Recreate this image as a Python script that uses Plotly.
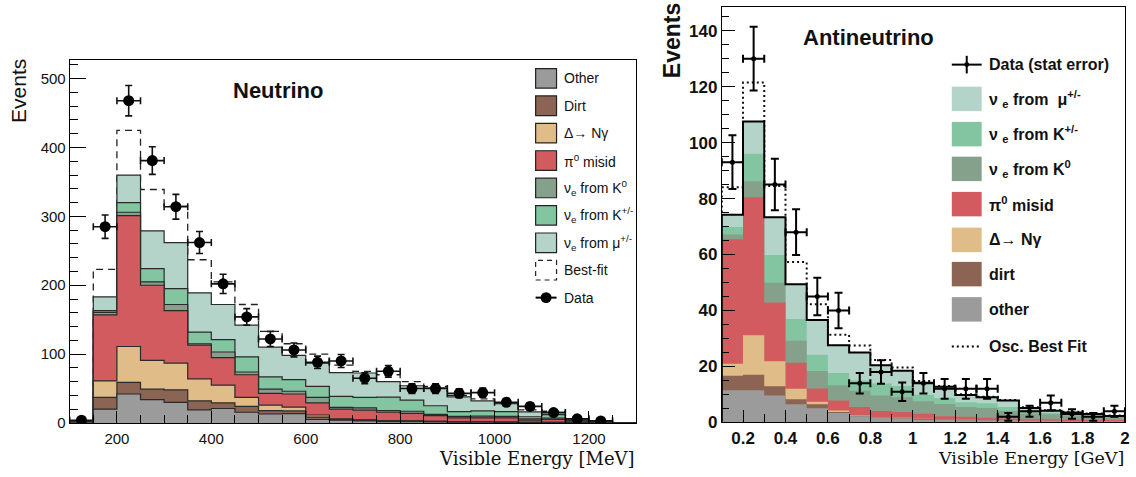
import plotly.graph_objects as go

W, H = 1136, 477

# ---------------- Neutrino (left) ----------------
nu_edges = list(range(100, 1301, 50))          # 24 bins of 50 MeV
nu_other = [1.2, 20, 42, 34, 30, 19, 21, 15.5, 13, 13.5, 5, 4, 3, 2, 2, 1.5, 1, 1, 0.8, 0.6, 0.5, 0.4, 0.2, 0]
nu_dirt  = [0.6, 17, 17, 15, 18, 13, 8, 8.5, 5, 4, 3.5, 1, 1, 1, 0.8, 0.7, 0.6, 0.5, 0.4, 0.3, 0.3, 0.2, 0.1, 0]
nu_delta = [0.3, 24, 52, 42, 39, 32, 26, 13, 8, 5.5, 3, 1, 0.5, 0.3, 0.2, 0.2, 0.2, 0.2, 0.2, 0.1, 0.1, 0.1, 0.1, 0]
nu_pi0   = [0.5, 96, 190, 109, 76, 49, 40, 33, 17, 19, 17.5, 14, 14, 12.2, 11, 8.1, 5.7, 5.8, 6.1, 3, 4.1, 1.8, 0.6, 0]
nu_k0    = [0.1, 3.5, 5, 5, 9, 2, 8, 4, 6, 4, 8, 2.5, 3.5, 2.5, 3, 2, 2, 2.5, 2, 2, 2, 0.5, 0.3, 0]
nu_kpm   = [0.1, 2.5, 14, 19, 23, 17, 18, 22, 18, 17, 16, 16, 15, 19.5, 16, 12.5, 7, 7.5, 7, 3, 5, 1, 0.4, 0]
nu_mu    = [0.2, 20, 40, 55, 67, 57, 51, 46, 43, 35, 34, 34.5, 35.5, 22.5, 21, 26, 21.5, 14.5, 11.5, 7, 3.5, 1.5, 0.8, 0]
nu_best  = [3, 223, 425, 339, 315, 237, 205, 172, 133, 115, 100, 84, 75, 70, 60, 53, 40, 35, 29, 19, 17, 6, 3, 0]
nu_data_x   = [125, 175, 225, 275, 325, 375, 425, 475, 525, 575, 625, 675, 725, 775, 825, 875, 925, 975, 1025, 1075, 1125, 1175, 1225]
nu_data     = [4, 285, 468, 381, 314, 262, 202, 154, 122, 106, 88, 90, 65, 75, 50, 50, 43, 44, 30, 24, 15, 6, 3]
nu_data_err = [2, 17, 22, 20, 18, 16, 14, 12, 11, 10, 9, 9.5, 8, 8.5, 7, 7, 6.5, 6.5, 5.5, 5, 4, 2.5, 1.7]
nu_bin_half = 25

# ---------------- Antineutrino (right) ----------------
an_edges = [round(0.1 + 0.1 * i, 2) for i in range(20)]   # 19 bins of 0.1 GeV
an_other = [11.5, 11.5, 9.6, 6.5, 5.1, 3.4, 2.2, 1.6, 1.5, 1.0, 1.0, 0.8, 0.7, 0.6, 0.5, 0.5, 0.4, 0.4, 0.4]
an_dirt  = [5.2, 5.5, 3.3, 1.8, 1.4, 0.3, 0.2, 0.2, 0.2, 0.2, 0.1, 0.1, 0.1, 0.1, 0.1, 0.1, 0.1, 0.1, 0.0]
an_delta = [4.3, 14.2, 9.0, 3.7, 0.9, 0.6, 0.2, 0.1, 0.1, 0.1, 0.1, 0.1, 0.1, 0.1, 0.0, 0.0, 0.0, 0.0, 0.1]
an_pi0   = [44.5, 49.3, 21.0, 9.3, 4.7, 3.5, 2.9, 2.2, 1.9, 1.8, 1.0, 1.0, 0.8, 0.6, 0.5, 0.5, 0.5, 0.4, 0.4]
an_k0    = [1.7, 5.7, 7.0, 7.9, 6.3, 5.5, 5.8, 5.5, 5.3, 4.5, 4.4, 3.5, 3.5, 2.7, 2.0, 1.8, 1.5, 1.3, 1.1]
an_kpm   = [2.6, 9.8, 9.9, 7.8, 5.8, 4.4, 3.7, 4.3, 4.0, 2.3, 2.1, 1.7, 1.7, 1.4, 0.8, 0.6, 0.5, 0.4, 0.2]
an_mu    = [4.4, 11.5, 13.5, 12.4, 12.4, 9.9, 10.0, 6.5, 5.5, 4.3, 4.1, 2.6, 2.1, 2.3, 1.3, 0.7, 0.6, 0.4, 0.1]
an_best  = [84, 121.5, 84.5, 57.3, 42.2, 31.3, 27.5, 22.3, 19.6, 14.8, 13.0, 10.1, 9.2, 8.0, 5.4, 4.4, 3.8, 3.2, 2.5]
an_data_x   = [0.15, 0.25, 0.35, 0.45, 0.55, 0.65, 0.75, 0.85, 0.95, 1.05, 1.15, 1.25, 1.35, 1.45, 1.55, 1.65, 1.75, 1.85, 1.95]
an_data     = [93, 130, 85, 68, 45, 40, 14, 18, 11, 14, 12, 12, 12, 2, 4, 7, 3, 2, 4]
an_data_err = [9.6, 11.4, 9.2, 8.2, 6.7, 6.3, 3.7, 4.2, 3.3, 3.7, 3.5, 3.5, 3.5, 1.4, 2, 2.6, 1.7, 1.4, 2]
an_bin_half = 0.05

COL = dict(other='#9b9b9b', dirt='#8b6453', delta='#e0bc89', pi0='#d25b60',
           k0='#86a18b', kpm='#84c5a1', mu='#b4d4c9')


def cumulate(*comps):
    out, run = [], [0.0] * len(comps[0])
    for c in comps:
        run = [a + b for a, b in zip(run, c)]
        out.append(run)
    return out


def step_xy(edges, vals):
    x = [edges[0]] + list(edges[:-1]) + [edges[-1], edges[-1]]
    y = [0] + list(vals) + [vals[-1], 0]
    return x, y


fig = go.Figure()

# ---- left stack ----
nu_cum = cumulate(nu_other, nu_dirt, nu_delta, nu_pi0, nu_k0, nu_kpm, nu_mu)
names = ['other', 'dirt', 'delta', 'pi0', 'k0', 'kpm', 'mu']
x, y = step_xy(nu_edges, nu_best)
fig.add_trace(go.Scatter(x=x, y=y, mode='lines', line=dict(shape='hv', color='#222', width=1.3, dash='7px,5px'),
                         xaxis='x', yaxis='y', showlegend=False, hoverinfo='skip'))
for k in range(6, -1, -1):
    x, y = step_xy(nu_edges, nu_cum[k])
    fig.add_trace(go.Scatter(x=x, y=y, mode='lines', fill='tozeroy', fillcolor=COL[names[k]],
                             line=dict(shape='hv', color='#2a2a2a', width=1.2),
                             xaxis='x', yaxis='y', showlegend=False, hoverinfo='skip'))
fig.add_trace(go.Scatter(x=nu_data_x, y=nu_data, mode='markers',
                         marker=dict(color='black', size=11),
                         error_y=dict(type='data', array=nu_data_err, color='#111', thickness=1.6, width=3.5),
                         error_x=dict(type='data', array=[nu_bin_half] * len(nu_data_x), color='#111', thickness=1.6, width=3.5),
                         xaxis='x', yaxis='y', showlegend=False))

# ---- right stack ----
an_cum = cumulate(an_other, an_dirt, an_delta, an_pi0, an_k0, an_kpm, an_mu)
x, y = step_xy(an_edges, an_best)
fig.add_trace(go.Scatter(x=x, y=y, mode='lines', line=dict(shape='hv', color='#111', width=2, dash='2px,3px'),
                         xaxis='x2', yaxis='y2', showlegend=False, hoverinfo='skip'))
for k in range(6, -1, -1):
    x, y = step_xy(an_edges, an_cum[k])
    fig.add_trace(go.Scatter(x=x, y=y, mode='lines', fill='tozeroy', fillcolor=COL[names[k]],
                             line=dict(shape='hv', color='rgba(0,0,0,0)', width=0),
                             xaxis='x2', yaxis='y2', showlegend=False, hoverinfo='skip'))
x, y = step_xy(an_edges, an_cum[6])
fig.add_trace(go.Scatter(x=x, y=y, mode='lines', line=dict(shape='hv', color='black', width=2),
                         xaxis='x2', yaxis='y2', showlegend=False, hoverinfo='skip'))
fig.add_trace(go.Scatter(x=an_data_x, y=an_data, mode='markers',
                         marker=dict(color='black', size=5),
                         error_y=dict(type='data', array=an_data_err, color='black', thickness=2, width=4),
                         error_x=dict(type='data', array=[an_bin_half] * len(an_data_x), color='black', thickness=2, width=4),
                         xaxis='x2', yaxis='y2', showlegend=False))

# ---- axes ----
def px(v):
    return v / W


def py(v):
    return 1 - v / H


LF = 'Liberation Sans, Arial, sans-serif'
common = dict(showgrid=False, zeroline=False, showline=True, linecolor='black', linewidth=1,
              mirror=True, ticks='inside', tickcolor='black')

fig.update_layout(
    width=W, height=H, margin=dict(l=0, r=0, t=0, b=0),
    paper_bgcolor='white', plot_bgcolor='white', showlegend=False,
    xaxis=dict(domain=[px(70), px(639)], range=[100, 1300], anchor='y', tick0=0, dtick=200, ticklen=12,
               tickfont=dict(family=LF, size=15, color='#111'), ticklabelstandoff=2,
               minor=dict(dtick=50, ticklen=8, ticks='inside', tickcolor='black'), **common),
    yaxis=dict(domain=[py(432), py(61)], range=[0, 527.5], anchor='x', tick0=0, dtick=100, ticklen=16,
               tickfont=dict(family=LF, size=15, color='#111'),
               minor=dict(dtick=20, ticklen=8, ticks='inside', tickcolor='black'), **common),
    xaxis2=dict(domain=[px(725), px(1130)], range=[0.1, 2.0], anchor='y2', tick0=0, dtick=0.2, ticklen=12,
                tickfont=dict(family=LF, size=17, color='#111', weight='bold'),
                minor=dict(dtick=0.1, ticklen=8, ticks='inside', tickcolor='black'), **common),
    yaxis2=dict(domain=[py(431.5), py(7)], range=[0, 148.5], anchor='x2', tick0=0, dtick=20, ticklen=13,
                tickfont=dict(family=LF, size=17, color='#111', weight='bold'),
                minor=dict(dtick=5, ticklen=7, ticks='inside', tickcolor='black'), **common),
)

ann = []
shapes = []


def text(xp, yp, s, size, bold=False, family=LF, xanchor='left', angle=0, color='#111'):
    ann.append(dict(x=px(xp), y=py(yp), xref='paper', yref='paper', text=s, showarrow=False,
                    xanchor=xanchor, yanchor='middle', textangle=angle, borderpad=0,
                    font=dict(family=family, size=size, color=color, weight='bold' if bold else 'normal')))


# titles
text(18, 93, 'Events', 21, xanchor='center', angle=-90)
text(639, 468, 'Visible Energy [MeV]', 18, family='DejaVu Serif, serif', xanchor='right')
text(279, 92, 'Neutrino', 22, bold=True, xanchor='center')
text(675, 42, 'Events', 23, bold=True, xanchor='center', angle=-90)
text(1130, 468, 'Visible Energy [GeV]', 17.5, family='DejaVu Serif, serif', xanchor='right')
text(872, 38, 'Antineutrino', 22, bold=True, xanchor='center')

# left legend
left_items = [('Other', 'other'), ('Dirt', 'dirt'), ('Δ→ Nγ', 'delta'), ('π<sup>0</sup> misid', 'pi0'),
              ('ν<sub>e</sub> from K<sup>0</sup>', 'k0'), ('ν<sub>e</sub> from K<sup>+/-</sup>', 'kpm'),
              ('ν<sub>e</sub> from μ<sup>+/-</sup>', 'mu'), ('Best-fit', None), ('Data', None)]
for i, (lab, key) in enumerate(left_items):
    yc = 80 + 28 * i
    if key:
        shapes.append(dict(type='rect', xref='paper', yref='paper', x0=px(538), x1=px(559),
                           y0=py(yc + 10), y1=py(yc - 10), fillcolor=COL[key], line=dict(color='#222', width=1.2)))
    elif lab == 'Best-fit':
        shapes.append(dict(type='rect', xref='paper', yref='paper', x0=px(538), x1=px(559),
                           y0=py(yc + 10), y1=py(yc - 10), line=dict(color='#222', width=1.2, dash='5px,4px')))
    else:
        shapes.append(dict(type='line', xref='paper', yref='paper', x0=px(538), x1=px(559),
                           y0=py(yc), y1=py(yc), line=dict(color='black', width=2)))
        shapes.append(dict(type='circle', xref='paper', yref='paper', x0=px(543), x1=px(554),
                           y0=py(yc + 5.5), y1=py(yc - 5.5), fillcolor='black', line=dict(color='black', width=0)))
    text(565, yc, lab, 14)

# right legend
right_items = [('Data (stat error)', None), ('ν <sub>e</sub> from  μ<sup>+/-</sup>', 'mu'),
               ('ν <sub>e</sub> from K<sup>+/-</sup>', 'kpm'), ('ν <sub>e</sub> from K<sup>0</sup>', 'k0'),
               ('π<sup>0</sup> misid', 'pi0'), ('Δ→ Nγ', 'delta'), ('dirt', 'dirt'), ('other', 'other'),
               ('Osc. Best Fit', None)]
right_y = [66, 101, 137, 172.5, 208.5, 245, 280, 316, 354]
for (lab, key), yc in zip(right_items, right_y):
    if key:
        shapes.append(dict(type='rect', xref='paper', yref='paper', x0=px(956), x1=px(986),
                           y0=py(yc + 12.5), y1=py(yc - 12.5), fillcolor=COL[key], line=dict(width=0)))
    elif lab.startswith('Data'):
        shapes.append(dict(type='line', xref='paper', yref='paper', x0=px(956), x1=px(986),
                           y0=py(yc), y1=py(yc), line=dict(color='black', width=2)))
        shapes.append(dict(type='line', xref='paper', yref='paper', x0=px(971), x1=px(971),
                           y0=py(yc + 9), y1=py(yc - 9), line=dict(color='black', width=2)))
        shapes.append(dict(type='circle', xref='paper', yref='paper', x0=px(968.5), x1=px(973.5),
                           y0=py(yc + 2.5), y1=py(yc - 2.5), fillcolor='black', line=dict(width=0)))
    else:
        shapes.append(dict(type='line', xref='paper', yref='paper', x0=px(956), x1=px(986),
                           y0=py(yc), y1=py(yc), line=dict(color='black', width=2, dash='2px,3px')))
    text(992, yc, lab, 16, bold=True)

fig.update_layout(annotations=ann, shapes=shapes)
fig.write_html('out.html')
